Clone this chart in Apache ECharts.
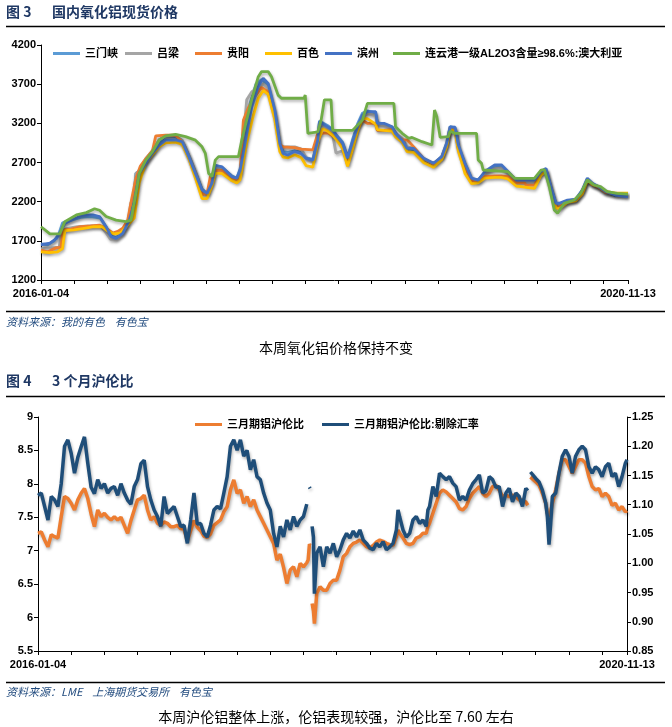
<!DOCTYPE html>
<html><head><meta charset="utf-8">
<script src="https://cdn.jsdelivr.net/npm/echarts@6/dist/echarts.min.js"></script>
<style>html,body{margin:0;padding:0;background:#fff}#c{width:672px;height:727px}</style>
</head><body><div id="c"></div><script>
// ---------- shared x axis (days since 2016-01-04) ----------
const startLabel = '2016-01-04';
const endLabel = '2020-11-13';
const xEndDay = 1775;
const xTickDays = [0,100,200,300,400,500,600,700,800,900,1000,1100,1200,1300,1400,1500,1600,1700,1775];

// ---------- Figure 3: alumina spot prices [day, yuan/t] ----------
const priceTicks = [1200,1700,2200,2700,3200,3700,4200];
const seriesNames1 = ['三门峡','吕梁','贵阳','百色','滨州','连云港一级AL2O3含量≥98.6%:澳大利亚'];
const sanmenxia = [[0,1660],[20,1650],[40,1700],[55,1800],[65,1930],[90,1960],[120,2000],[150,2010],[180,1990],[197,1870],[212,1760],[227,1740],[247,1800],[265,1980],[280,2260],[287,2560],[297,2590],[317,2700],[337,2830],[357,2940],[377,3040],[407,3030],[427,2980],[447,2790],[467,2580],[487,2360],[502,2310],[517,2460],[527,2660],[547,2640],[577,2530],[592,2500],[602,2620],[617,3000],[632,3450],[650,3700],[667,3760],[687,3690],[707,3330],[722,2920],[732,2840],[747,2830],[767,2850],[787,2830],[802,2760],[822,2740],[837,3000],[842,3230],[867,3170],[882,3120],[892,3060],[912,2960],[927,2770],[942,2990],[957,3190],[972,3330],[987,3360],[1012,3330],[1017,3210],[1037,3190],[1062,3150],[1072,3080],[1092,2990],[1107,2870],[1127,2860],[1157,2740],[1187,2680],[1212,2780],[1227,2960],[1237,3160],[1252,3140],[1262,2900],[1282,2680],[1302,2490],[1322,2480],[1342,2570],[1372,2650],[1392,2650],[1412,2570],[1437,2470],[1492,2470],[1512,2580],[1527,2610],[1542,2380],[1557,2170],[1567,2170],[1592,2210],[1617,2230],[1637,2340],[1652,2490],[1667,2430],[1687,2380],[1707,2320],[1737,2280],[1775,2270]];
const lvliang = [[0,1600],[30,1610],[55,1620],[62,1830],[80,1860],[110,1880],[150,1890],[180,1890],[197,1800],[210,1720],[227,1720],[247,1800],[262,1900],[272,2190],[282,2200],[287,2560],[300,2600],[317,2750],[337,2850],[357,2990],[377,3040],[407,3040],[427,2980],[447,2790],[467,2580],[487,2330],[502,2290],[517,2450],[527,2640],[547,2620],[577,2510],[592,2480],[602,2560],[612,3000],[622,3500],[637,3600],[657,3660],[672,3700],[687,3650],[707,3300],[722,2920],[732,2900],[767,2900],[787,2870],[802,2760],[822,2720],[837,2980],[842,3210],[867,3130],[882,3050],[892,2820],[912,2850],[927,2740],[942,2950],[957,3150],[972,3280],[987,3320],[1012,3300],[1017,3180],[1037,3170],[1062,3140],[1072,3070],[1092,3010],[1107,2900],[1127,2880],[1157,2740],[1187,2690],[1212,2770],[1227,2930],[1237,3140],[1252,3130],[1262,2880],[1282,2670],[1302,2480],[1322,2470],[1342,2560],[1372,2620],[1392,2630],[1412,2560],[1437,2460],[1492,2460],[1512,2570],[1527,2600],[1542,2370],[1557,2140],[1567,2150],[1592,2210],[1617,2230],[1637,2330],[1652,2480],[1667,2420],[1687,2380],[1707,2320],[1737,2290],[1775,2280]];
const guiyang = [[0,1580],[20,1560],[45,1610],[60,1620],[67,1840],[90,1850],[120,1880],[150,1890],[177,1900],[197,1860],[217,1800],[232,1820],[247,1860],[262,1960],[272,2190],[287,2500],[300,2650],[317,2750],[337,2850],[347,3040],[377,3050],[407,3050],[427,2960],[447,2760],[467,2560],[487,2290],[502,2300],[512,2520],[527,2600],[547,2600],[577,2500],[592,2480],[602,2560],[612,3240],[627,3400],[650,3560],[667,3660],[687,3600],[707,3300],[722,2930],[732,2900],[767,2890],[787,2870],[822,2860],[837,3070],[867,3080],[882,3040],[892,3030],[912,2900],[927,2670],[942,2900],[957,3150],[972,3240],[987,3200],[1012,3200],[1017,3110],[1037,3110],[1062,3120],[1072,3060],[1092,2990],[1107,2990],[1127,2900],[1157,2750],[1187,2680],[1212,2770],[1227,2930],[1237,3140],[1252,3120],[1262,2880],[1282,2660],[1302,2460],[1322,2450],[1342,2520],[1372,2530],[1392,2530],[1412,2520],[1437,2440],[1462,2440],[1467,2410],[1492,2410],[1512,2560],[1527,2600],[1542,2360],[1557,2130],[1567,2130],[1592,2200],[1617,2220],[1637,2320],[1652,2480],[1667,2420],[1687,2380],[1707,2320],[1737,2300],[1775,2300]];
const baise = [[0,1560],[25,1550],[50,1560],[65,1600],[72,1830],[100,1840],[130,1860],[160,1880],[185,1880],[200,1830],[220,1790],[240,1800],[262,1900],[282,1990],[297,2440],[317,2700],[337,2800],[357,2900],[377,2950],[407,2960],[427,2930],[447,2750],[467,2500],[487,2240],[502,2240],[517,2400],[527,2560],[547,2560],[577,2470],[592,2440],[602,2480],[622,2950],[642,3300],[657,3520],[672,3620],[687,3570],[707,3250],[722,2840],[732,2770],[747,2760],[767,2800],[787,2760],[802,2660],[822,2640],[837,2960],[852,3130],[867,3100],[882,3050],[892,3000],[912,2880],[927,2650],[942,2870],[957,3100],[972,3260],[987,3260],[1012,3190],[1017,3120],[1037,3110],[1062,3100],[1072,3030],[1092,2960],[1107,2840],[1127,2830],[1157,2700],[1187,2640],[1212,2740],[1227,2900],[1237,3120],[1252,3100],[1262,2850],[1282,2560],[1302,2430],[1322,2440],[1342,2500],[1372,2510],[1392,2510],[1412,2490],[1437,2400],[1492,2370],[1512,2540],[1527,2590],[1542,2350],[1557,2120],[1567,2110],[1592,2190],[1617,2210],[1637,2300],[1652,2470],[1667,2420],[1687,2390],[1707,2330],[1737,2310],[1775,2310]];
const binzhou = [[0,1650],[27,1670],[47,1730],[62,1840],[72,1920],[97,1975],[127,2030],[157,2030],[177,2010],[197,1880],[212,1755],[227,1730],[247,1795],[267,1965],[282,2180],[297,2560],[317,2690],[337,2820],[357,2920],[377,2985],[407,2990],[427,2965],[447,2775],[467,2560],[487,2350],[502,2305],[517,2435],[527,2665],[547,2645],[577,2520],[592,2500],[602,2600],[617,2945],[637,3410],[657,3670],[672,3775],[687,3710],[707,3370],[722,2945],[732,2815],[747,2795],[767,2840],[787,2815],[802,2755],[822,2730],[837,2985],[842,3220],[867,3155],[882,3115],[892,3050],[912,2945],[927,2755],[942,2965],[957,3155],[972,3305],[987,3350],[1012,3350],[1017,3200],[1037,3200],[1062,3155],[1072,3070],[1092,2985],[1107,2880],[1127,2880],[1157,2755],[1187,2690],[1212,2775],[1227,2945],[1237,3155],[1252,3150],[1262,2925],[1282,2690],[1302,2500],[1322,2475],[1342,2585],[1372,2670],[1392,2670],[1412,2585],[1437,2475],[1492,2475],[1512,2585],[1527,2625],[1542,2390],[1557,2180],[1567,2180],[1592,2220],[1617,2230],[1637,2350],[1652,2500],[1667,2435],[1687,2390],[1707,2330],[1737,2285],[1775,2260]];
const lianyungang = [[0,1880],[27,1790],[57,1790],[72,1945],[107,2030],[137,2060],[162,2110],[177,2090],[197,2010],[227,1965],[257,1945],[272,1965],[287,2306],[297,2560],[317,2730],[337,2840],[357,2985],[377,3040],[407,3060],[437,3030],[467,2985],[487,2900],[497,2815],[507,2560],[517,2520],[527,2730],[537,2775],[597,2775],[607,2985],[617,3157],[637,3500],[657,3795],[667,3860],[687,3860],[697,3795],[717,3560],[727,3520],[795,3520],[799,3560],[807,3072],[837,3090],[847,3240],[857,3500],[877,3500],[882,3110],[942,3110],[972,3243],[987,3455],[1067,3455],[1072,3157],[1092,3072],[1112,3008],[1122,3020],[1152,2966],[1182,2923],[1190,3370],[1197,3285],[1207,3021],[1232,3030],[1237,3100],[1252,3072],[1317,3072],[1322,2732],[1332,2690],[1337,2604],[1412,2583],[1432,2498],[1492,2498],[1512,2604],[1522,2610],[1537,2391],[1552,2094],[1562,2051],[1582,2179],[1612,2221],[1632,2306],[1652,2477],[1672,2413],[1692,2391],[1712,2328],[1742,2306],[1775,2295]];
const colors1 = ['#5B9BD5','#A5A5A5','#ED7D31','#FFC000','#4472C4','#70AD47'];

// ---------- Figure 4: SHFE/LME 3-month ratio ----------
const ratioLeftTicks = [5.5,6,6.5,7,7.5,8,8.5,9];
const ratioRightTicks = [0.85,0.9,0.95,1.0,1.05,1.1,1.15,1.2,1.25];
const seriesNames2 = ['三月期铝沪伦比','三月期铝沪伦比:剔除汇率'];
const ratioDays = [0,10,20,30,40,50,60,70,80,90,100,110,120,130,140,150,160,170,180,190,200,210,220,230,240,250,260,270,280,290,300,310,320,330,340,350,360,370,380,390,400,410,420,430,440,450,460,470,480,490,500,510,520,530,540,550,560,570,580,590,600,610,620,630,640,650,660,670,680,690,700,710,720,730,740,750,760,770,780,790,800,810,814,818,820,823,826,830,833,840,850,860,870,880,890,900,910,920,930,940,950,960,970,980,990,1000,1010,1020,1030,1040,1050,1060,1070,1080,1085,1090,1100,1110,1120,1130,1140,1150,1160,1170,1175,1180,1190,1200,1210,1220,1230,1240,1250,1260,1270,1280,1290,1300,1310,1320,1330,1340,1350,1360,1370,1380,1390,1400,1410,1420,1430,1440,1450,1460,1470,1476,1480,1484,1490,1500,1510,1520,1530,1535,1540,1545,1550,1560,1570,1580,1590,1600,1610,1620,1630,1640,1650,1660,1670,1680,1690,1700,1710,1720,1730,1740,1750,1760,1770,1775];
const ratio = [7.26,7.28,7.16,7.06,7.24,7.21,7.19,7.51,7.81,7.78,7.71,7.61,7.76,7.86,7.93,7.78,7.55,7.36,7.61,7.51,7.56,7.50,7.46,7.51,7.46,7.50,7.38,7.26,7.45,7.61,7.76,7.78,7.83,7.61,7.46,7.51,7.41,7.38,7.43,7.41,7.36,7.36,7.38,7.33,7.32,7.15,7.30,7.45,7.35,7.30,7.22,7.20,7.25,7.38,7.42,7.46,7.58,7.66,7.91,8.06,7.86,7.91,7.71,7.81,7.66,7.76,7.61,7.51,7.41,7.31,7.21,7.11,6.86,6.95,6.75,6.51,6.71,6.76,6.61,6.81,6.76,6.82,6.86,7.10,7.08,null,6.21,6.10,5.91,6.36,6.46,6.41,6.41,6.51,6.56,6.56,6.71,6.91,6.96,7.06,7.11,7.13,7.16,7.11,7.06,7.04,7.08,7.13,7.16,7.14,7.11,7.09,7.08,7.21,7.31,7.26,7.19,7.11,7.09,7.11,7.19,7.21,7.26,7.26,7.36,7.41,7.56,7.71,7.86,7.91,7.88,7.83,7.78,7.73,7.63,7.61,7.66,7.78,7.86,7.91,7.96,7.86,7.81,7.86,7.96,7.98,7.91,7.81,7.83,7.81,7.83,7.81,7.76,7.76,7.73,7.68,null,8.10,8.08,8.03,7.98,7.86,7.71,7.56,7.51,7.58,7.71,7.91,8.16,8.36,8.36,8.26,8.16,8.26,8.36,8.36,8.31,8.11,7.96,7.91,7.93,7.81,7.86,7.81,7.68,7.71,7.61,7.66,7.58,7.60];
const ratioExFx = [1.116,1.120,1.097,1.074,1.114,1.108,1.097,1.136,1.200,1.211,1.188,1.154,1.181,1.199,1.216,1.171,1.130,1.119,1.143,1.128,1.136,1.120,1.128,1.131,1.116,1.136,1.120,1.108,1.101,1.131,1.143,1.170,1.176,1.131,1.108,1.091,1.080,1.063,1.114,1.085,1.091,1.097,1.080,1.063,1.065,1.034,1.074,1.120,1.067,1.068,1.051,1.045,1.065,1.091,1.097,1.093,1.120,1.148,1.200,1.211,1.193,1.211,1.183,1.193,1.160,1.177,1.148,1.143,1.120,1.103,1.091,1.051,1.028,1.063,1.045,1.074,1.057,1.080,1.063,1.074,1.080,1.101,null,1.130,1.128,null,1.063,1.045,0.948,1.017,1.028,0.994,1.028,1.017,1.034,1.011,1.023,1.040,1.051,1.043,1.055,1.045,1.057,1.040,1.034,1.026,1.023,1.034,1.028,1.037,1.023,1.028,1.034,1.057,1.091,1.079,1.057,1.045,1.051,1.074,1.080,1.068,1.074,1.063,1.091,1.097,1.131,1.114,1.154,1.148,1.143,1.148,1.137,1.131,1.108,1.114,1.108,1.125,1.136,1.143,1.151,1.120,1.124,1.148,1.143,1.130,1.131,1.097,1.120,1.128,1.105,1.120,1.114,1.097,1.128,1.124,null,1.156,1.154,1.145,1.139,1.125,1.103,1.080,1.032,1.067,1.114,1.120,1.154,1.183,1.194,1.183,1.154,1.183,1.194,1.200,1.194,1.165,1.154,1.165,1.160,1.148,1.165,1.171,1.148,1.154,1.131,1.148,1.171,1.177];
const colors2 = ['#ED7D31','#1F4E79'];

// ---------- page texts ----------
const fig3No = '图 3', fig3Title = '国内氧化铝现货价格';
const fig3Source = '资料来源：我的有色    有色宝';
const fig3Note = '本周氧化铝价格保持不变';
const fig4No = '图 4', fig4Title = '3 个月沪伦比';
const fig4Source = '资料来源：LME    上海期货交易所    有色宝';
const fig4Note = '本周沪伦铝整体上涨，伦铝表现较强，沪伦比至 7.60 左右';

// ---------- build option ----------
const FONT = '"Liberation Sans", Arial, "Noto Sans CJK SC", sans-serif';
const CJK = '"Noto Sans CJK SC", sans-serif';
const xFmt = v => v === 0 ? startLabel : (v === xEndDay ? endLabel : '');
function xAxisCfg(gridIndex) {
  return {
    type: 'value', gridIndex, min: 0, max: xEndDay,
    axisLine: {show: true, lineStyle: {color: '#000', width: 1}},
    axisTick: {show: true, length: 4, lineStyle: {color: '#000'}, customValues: xTickDays},
    axisLabel: {customValues: [0, xEndDay], formatter: xFmt, color: '#000', fontWeight: 'bold', fontSize: 11, fontFamily: FONT, margin: 8},
    splitLine: {show: false}
  };
}
function yAxisCfg(gridIndex, ticks, fmt, position) {
  return {
    type: 'value', gridIndex, position, min: ticks[0], max: ticks[ticks.length - 1],
    axisLine: {show: true, lineStyle: {color: '#000', width: 1}},
    axisTick: {show: true, length: 4, lineStyle: {color: '#000'}, customValues: ticks},
    axisLabel: {customValues: ticks, formatter: fmt, color: '#000', fontWeight: 'bold', fontSize: 11, fontFamily: FONT, margin: 5},
    splitLine: {show: false}
  };
}
const shadow = {shadowColor: 'rgba(0,0,0,0.3)', shadowBlur: 3, shadowOffsetX: 1, shadowOffsetY: 2};
const data1 = [sanmenxia, lvliang, guiyang, baise, binzhou, lianyungang];
const series = data1.map((d, i) => ({
  name: seriesNames1[i], type: 'line', xAxisIndex: 0, yAxisIndex: 0, data: d,
  showSymbol: false, symbol: 'none', color: colors1[i],
  lineStyle: Object.assign({width: 2.8, color: colors1[i]}, shadow)
}));
series.push({
  name: seriesNames2[0], type: 'line', xAxisIndex: 1, yAxisIndex: 1,
  data: ratioDays.map((d, i) => [d, ratio[i]]), showSymbol: false, symbol: 'none', color: colors2[0],
  lineStyle: Object.assign({width: 3.5, color: colors2[0]}, shadow)
});
series.push({
  name: seriesNames2[1], type: 'line', xAxisIndex: 1, yAxisIndex: 2,
  data: ratioDays.map((d, i) => [d, ratioExFx[i]]), showSymbol: false, symbol: 'none', color: colors2[1],
  lineStyle: Object.assign({width: 3.5, color: colors2[1]}, shadow)
});

// one legend component per item so each entry sits where the reference puts it
const legendText = {color: '#000', fontWeight: 'bold', fontSize: 11, fontFamily: FONT};
const legend1Left = [53, 125, 195, 265, 325, 393];
const legend2Left = [195, 322];
function legendItem(name, left, top) {
  return {left, top, padding: 0, itemWidth: 27, itemHeight: 3, icon: 'rect', itemGap: 0,
    data: [name], textStyle: legendText, selectedMode: false};
}
const legends = seriesNames1.map((n, i) => legendItem(n, legend1Left[i], 48))
  .concat(seriesNames2.map((n, i) => legendItem(n, legend2Left[i], 419)));

function txt(x, y, text, style) {
  return {type: 'text', x, y, style: Object.assign({text, textVerticalAlign: 'middle', verticalAlign: 'middle'}, style)};
}
function rule(y) {
  return {type: 'line', shape: {x1: 6, y1: y, x2: 665, y2: y}, style: {stroke: '#000', lineWidth: 1.5}};
}
const titleStyle = {fill: '#1F3864', font: 'bold 14px ' + CJK};
const sourceStyle = {fill: '#1F497D', font: 'italic 11px ' + CJK};
const noteStyle = {fill: '#000', font: '14px ' + CJK, align: 'center', textAlign: 'center'};

const option = {
  animation: false,
  backgroundColor: '#fff',
  grid: [
    {left: 41, top: 45, width: 587, height: 235, containLabel: false},
    {left: 38, top: 417, width: 589, height: 234, containLabel: false}
  ],
  xAxis: [xAxisCfg(0), xAxisCfg(1)],
  yAxis: [
    yAxisCfg(0, priceTicks, v => String(v), 'left'),
    yAxisCfg(1, ratioLeftTicks, v => String(v), 'left'),
    yAxisCfg(1, ratioRightTicks, v => v.toFixed(2), 'right')
  ],
  legend: legends,
  graphic: [
    txt(6, 12, fig3No, titleStyle),
    txt(52, 12, fig3Title, titleStyle),
    rule(26.5),
    rule(311.5),
    txt(6, 322, fig3Source, sourceStyle),
    txt(336, 348, fig3Note, noteStyle),
    txt(6, 381, fig4No, titleStyle),
    txt(52, 381, fig4Title, titleStyle),
    rule(396.5),
    rule(682.5),
    txt(6, 692, fig4Source, sourceStyle),
    txt(336, 717, fig4Note, noteStyle)
  ],
  series
};
const chart = echarts.init(document.getElementById('c'), null, {renderer: 'canvas'});
chart.setOption(option);
</script></body></html>
